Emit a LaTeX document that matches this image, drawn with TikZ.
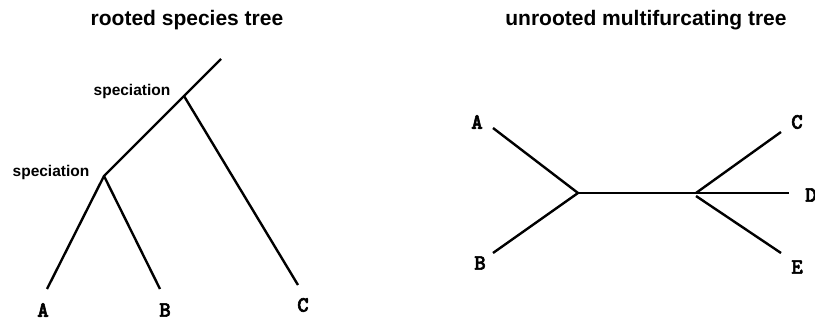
\documentclass[tikz,border=0pt]{standalone}
\usepackage{fontspec}
\setmainfont{Liberation Sans}
\newfontfamily\monob{lmmonolt10-bold.otf}[FakeBold=2.5]
\begin{document}
\begin{tikzpicture}[x=1pt,y=-1pt,
  branch/.style={line width=2.4pt},
  ttl/.style={font=\fontsize{21}{24}\selectfont\bfseries},
  evt/.style={font=\fontsize{15.5}{18}\selectfont\bfseries},
  leaf/.style={font=\fontsize{22}{24}\selectfont\monob, inner sep=1pt}]
\useasboundingbox (0,0) rectangle (815,320);
% left tree
\node[ttl] (t1) at (187,20) {rooted species tree};
\coordinate (root) at (221,59);
\coordinate (s1) at (184,96);
\coordinate (s2) at (104,176);
\coordinate (lA) at (47,289);
\coordinate (lB) at (160,289);
\coordinate (lC) at (298,285);
\draw[branch] (root) -- (s1) -- (s2) -- (lA);
\draw[branch] (s2) -- (lB);
\draw[branch] (s1) -- (lC);
\node[evt] (e1) at (132,91) {speciation};
\node[evt] (e2) at (51,172) {speciation};
\node[leaf] (A1) at (43,310) {A};
\node[leaf] (B1) at (165,310) {B};
\node[leaf] (C1) at (303,305) {C};
% right tree
\node[ttl] (t2) at (646,20) {unrooted multifurcating tree};
\coordinate (j1) at (578,193);
\coordinate (j2) at (696,193);
\coordinate (j2b) at (696,196);
\coordinate (rA) at (493,128);
\coordinate (rB) at (493,253);
\coordinate (rC) at (781,132);
\coordinate (rD) at (789,193);
\coordinate (rE) at (781,253);
\draw[branch] (rA) -- (j1) -- (rB);
\draw[branch] (j1) -- (j2);
\draw[branch] (j2) -- (rC);
\draw[branch] (j2) -- (rD);
\draw[branch] (j2b) -- (rE);
\node[leaf] (A2) at (477,122) {A};
\node[leaf] (B2) at (480,263) {B};
\node[leaf] (C2) at (797,122) {C};
\node[leaf,anchor=west] (D2) at (804,195) {D};
\node[leaf] (E2) at (797,267) {E};
\end{tikzpicture}
\end{document}
